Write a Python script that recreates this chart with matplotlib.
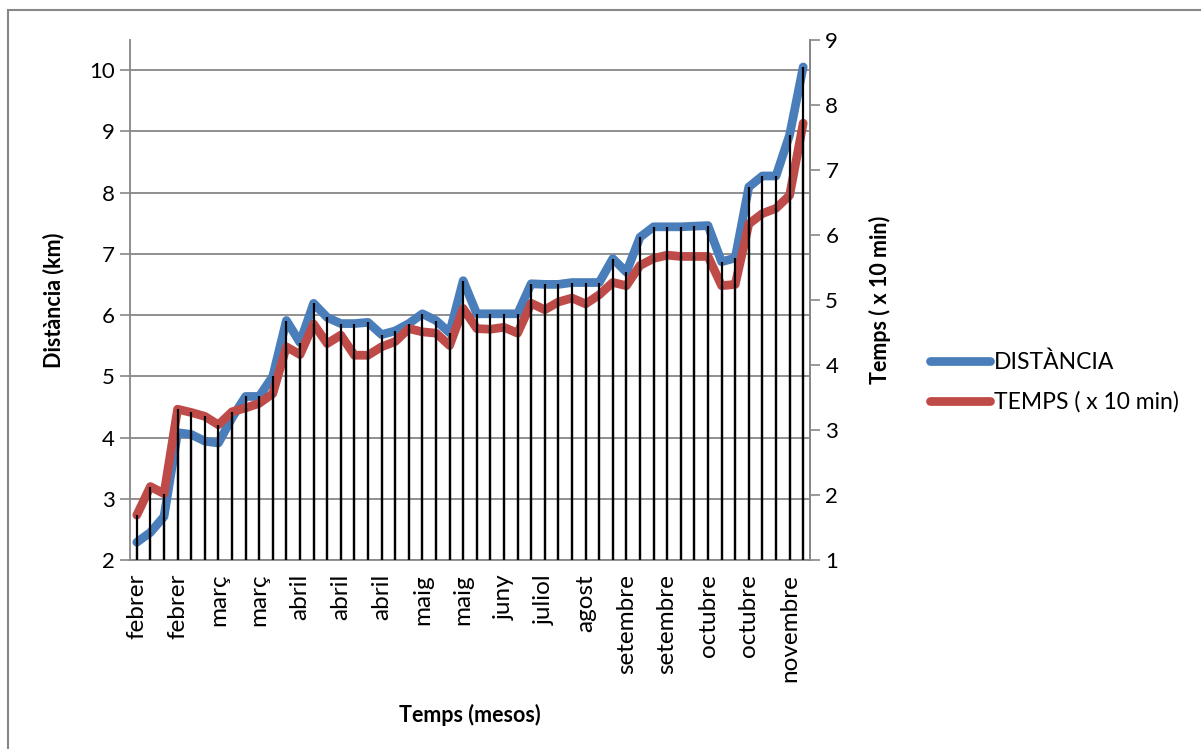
import matplotlib.pyplot as plt
from matplotlib.patches import Rectangle

plt.rcParams['font.family'] = ['Lato', 'DejaVu Sans']

# one entry per training session
distancia = [2.29, 2.45, 2.71, 4.08, 4.05, 3.94, 3.91, 4.32, 4.67, 4.67,
             5.00, 5.91, 5.55, 6.19, 5.96, 5.86, 5.86, 5.88, 5.68, 5.74,
             5.86, 6.02, 5.91, 5.71, 6.56, 6.02, 6.02, 6.02, 6.02, 6.51,
             6.50, 6.50, 6.53, 6.53, 6.53, 6.92, 6.70, 7.27, 7.44, 7.44,
             7.44, 7.45, 7.46, 6.87, 6.93, 8.09, 8.27, 8.27, 8.94, 10.05]
temps = [1.69, 2.13, 2.02, 3.32, 3.27, 3.21, 3.08, 3.28, 3.34, 3.41,
         3.56, 4.28, 4.16, 4.63, 4.33, 4.46, 4.15, 4.15, 4.28, 4.36,
         4.56, 4.51, 4.49, 4.30, 4.87, 4.56, 4.55, 4.58, 4.49, 4.95,
         4.85, 4.97, 5.03, 4.94, 5.08, 5.27, 5.22, 5.53, 5.64, 5.69,
         5.67, 5.67, 5.67, 5.22, 5.24, 6.17, 6.33, 6.41, 6.61, 7.72]
mesos = ['febrer', 'febrer', 'març', 'març', 'abril', 'abril', 'abril',
         'maig', 'maig', 'juny', 'juliol', 'agost', 'setembre', 'setembre',
         'octubre', 'octubre', 'novembre']

x = list(range(len(distancia)))
blau = '#4A7EBB'
vermell = '#BE4B48'
gris = '#878787'

fig = plt.figure(figsize=(12.01, 7.49), dpi=100)
ax = fig.add_axes([130 / 1201, 189 / 749, 680 / 1201, 520 / 749])
ax2 = ax.twinx()

l1, = ax.plot(x, distancia, color=blau, lw=6.3, solid_capstyle='round',
              solid_joinstyle='round', label='DISTÀNCIA', zorder=2)
l2, = ax2.plot(x, temps, color=vermell, lw=6.3, solid_capstyle='round',
               solid_joinstyle='round', label='TEMPS ( x 10 min)', zorder=2)

ax.set_xlim(-0.5, len(x) - 0.5)
ax.set_ylim(2, 10.49)
ax2.set_ylim(1, 9)

# drop lines for both series, drawn above the lines
ax2.vlines(x, 2, distancia, colors='black', lw=1.6, zorder=3,
           transform=ax.transData)
ax2.vlines(x, 1, temps, colors='black', lw=1.6, zorder=3)

ax.set_yticks(range(2, 11))
ax2.set_yticks(range(1, 10))
ax.yaxis.grid(True, color=gris, lw=1.3)
ax.set_axisbelow(True)

ax.set_xticks(x[::3])
ax.set_xticklabels(mesos, rotation=90, va='top', ha='center')
ax.tick_params(axis='x', length=0, pad=10, labelsize=17.5)
ax.tick_params(axis='y', length=7, width=1.2, color=gris, pad=4,
               labelsize=16)
ax2.tick_params(axis='y', length=7, width=1.2, color=gris, pad=4,
                labelsize=16)

for a in (ax, ax2):
    for s in a.spines.values():
        s.set_color(gris)
        s.set_linewidth(1.3)
    a.spines['top'].set_visible(False)
ax2.spines['left'].set_visible(False)
ax2.spines['bottom'].set_visible(False)

ax.set_ylabel('Distància (km)', fontsize=15.5, fontweight='bold')
ax.yaxis.set_label_coords(-0.096, 0.5)
ax2.set_ylabel('Temps ( x 10 min)', fontsize=15.5, fontweight='bold')
ax2.yaxis.set_label_coords(1.087, 0.5)
ax.set_xlabel('Temps (mesos)', fontsize=15.5, fontweight='bold')
ax.xaxis.set_label_coords(0.5, -0.277)

fig.legend(handles=[l1, l2], loc='center left',
           bbox_to_anchor=(930 / 1201, 1 - 382 / 749), frameon=False,
           fontsize=16.5, handlelength=2.6, handletextpad=0.2,
           labelspacing=0.8, borderpad=0, borderaxespad=0)

# chart area frame
fig.add_artist(Rectangle((7.5 / 1201, -0.1), 1.2, 0.1 + 1 - 10 / 749,
                         transform=fig.transFigure, fill=False,
                         edgecolor=gris, lw=1.5))

fig.savefig('out.png', dpi=100)
